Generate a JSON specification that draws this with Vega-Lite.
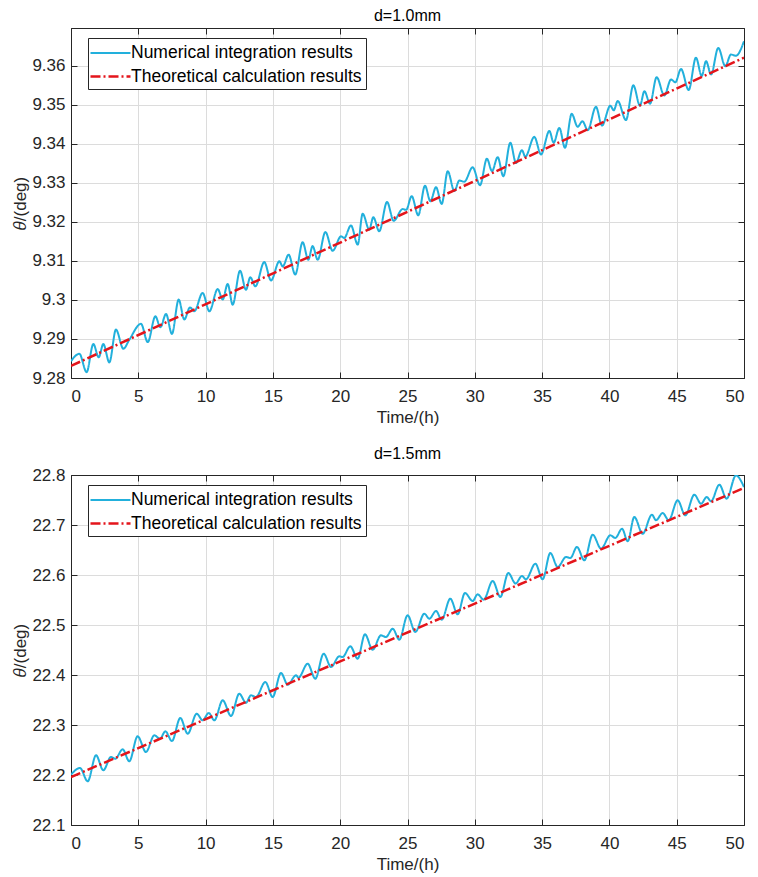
{
  "$schema": "https://vega.github.io/schema/vega-lite/v6.json",
  "padding": {"left": 11, "top": 7, "right": 6, "bottom": 0},
  "spacing": 19,
  "background": "white",
  "config": {
    "font": "Liberation Sans",
    "view": {"stroke": "#262626", "strokeWidth": 1},
    "axis": {
      "labelFont": "Liberation Sans", "labelFontSize": 17, "labelColor": "#262626",
      "titleFont": "Liberation Sans", "titleFontSize": 17, "titleFontWeight": "normal", "titleColor": "#262626",
      "domainColor": "#262626", "tickColor": "#262626", "gridColor": "#dcdcdc", "gridOpacity": 1,
      "tickSize": -6
    },
    "axisX": {"labelPadding": 16, "titlePadding": 5},
    "axisY": {"labelPadding": 12, "titlePadding": 2},
    "title": {"font": "Liberation Sans", "fontSize": 16, "fontWeight": "normal", "color": "#000000", "offset": 4},
    "legend": {
      "fillColor": "white", "strokeColor": "#262626",
      "padding": 4, "symbolType": "M-1.3,0H2.7", "symbolSize": 400, "symbolStrokeWidth": 2,
      "labelFont": "Liberation Sans", "labelFontSize": 17.5, "labelColor": "#000000", "labelLimit": 400,
      "rowPadding": 3, "labelOffset": 16, "cornerRadius": 0
    }
  },
  "datasets": {
    "top": [
      {"time": 0, "theta": 9.2843, "series": "num"},
      {"time": 0.62, "theta": 9.2862, "series": "num"},
      {"time": 1.16, "theta": 9.2815, "series": "num"},
      {"time": 1.66, "theta": 9.2887, "series": "num"},
      {"time": 2.06, "theta": 9.2853, "series": "num"},
      {"time": 2.4, "theta": 9.2887, "series": "num"},
      {"time": 2.85, "theta": 9.2840, "series": "num"},
      {"time": 3.34, "theta": 9.2924, "series": "num"},
      {"time": 3.89, "theta": 9.2875, "series": "num"},
      {"time": 4.33, "theta": 9.2898, "series": "num"},
      {"time": 5.2, "theta": 9.2939, "series": "num"},
      {"time": 5.7, "theta": 9.2892, "series": "num"},
      {"time": 6.27, "theta": 9.2958, "series": "num"},
      {"time": 6.64, "theta": 9.2930, "series": "num"},
      {"time": 7.06, "theta": 9.2964, "series": "num"},
      {"time": 7.5, "theta": 9.2913, "series": "num"},
      {"time": 8.0, "theta": 9.3001, "series": "num"},
      {"time": 8.42, "theta": 9.2950, "series": "num"},
      {"time": 8.84, "theta": 9.2981, "series": "num"},
      {"time": 9.16, "theta": 9.2971, "series": "num"},
      {"time": 9.78, "theta": 9.3018, "series": "num"},
      {"time": 10.28, "theta": 9.2971, "series": "num"},
      {"time": 10.9, "theta": 9.3028, "series": "num"},
      {"time": 11.27, "theta": 9.3001, "series": "num"},
      {"time": 11.64, "theta": 9.3041, "series": "num"},
      {"time": 12.01, "theta": 9.2988, "series": "num"},
      {"time": 12.56, "theta": 9.3075, "series": "num"},
      {"time": 13.0, "theta": 9.3026, "series": "num"},
      {"time": 13.32, "theta": 9.3058, "series": "num"},
      {"time": 13.7, "theta": 9.3035, "series": "num"},
      {"time": 14.36, "theta": 9.3097, "series": "num"},
      {"time": 14.86, "theta": 9.3050, "series": "num"},
      {"time": 15.48, "theta": 9.3099, "series": "num"},
      {"time": 15.73, "theta": 9.3086, "series": "num"},
      {"time": 16.17, "theta": 9.3116, "series": "num"},
      {"time": 16.66, "theta": 9.3065, "series": "num"},
      {"time": 17.21, "theta": 9.3148, "series": "num"},
      {"time": 17.63, "theta": 9.3103, "series": "num"},
      {"time": 17.95, "theta": 9.3138, "series": "num"},
      {"time": 18.33, "theta": 9.3103, "series": "num"},
      {"time": 18.9, "theta": 9.3174, "series": "num"},
      {"time": 19.44, "theta": 9.3126, "series": "num"},
      {"time": 20.06, "theta": 9.3163, "series": "num"},
      {"time": 20.3, "theta": 9.3159, "series": "num"},
      {"time": 20.8, "theta": 9.3191, "series": "num"},
      {"time": 21.3, "theta": 9.3142, "series": "num"},
      {"time": 21.67, "theta": 9.3221, "series": "num"},
      {"time": 22.16, "theta": 9.3180, "series": "num"},
      {"time": 22.46, "theta": 9.3212, "series": "num"},
      {"time": 22.9, "theta": 9.3176, "series": "num"},
      {"time": 23.48, "theta": 9.3251, "series": "num"},
      {"time": 23.97, "theta": 9.3203, "series": "num"},
      {"time": 24.64, "theta": 9.3233, "series": "num"},
      {"time": 24.9, "theta": 9.3231, "series": "num"},
      {"time": 25.31, "theta": 9.3266, "series": "num"},
      {"time": 25.8, "theta": 9.3217, "series": "num"},
      {"time": 26.3, "theta": 9.3293, "series": "num"},
      {"time": 26.7, "theta": 9.3253, "series": "num"},
      {"time": 27.12, "theta": 9.3289, "series": "num"},
      {"time": 27.54, "theta": 9.3246, "series": "num"},
      {"time": 27.99, "theta": 9.3330, "series": "num"},
      {"time": 28.48, "theta": 9.3279, "series": "num"},
      {"time": 28.85, "theta": 9.3306, "series": "num"},
      {"time": 29.22, "theta": 9.3303, "series": "num"},
      {"time": 29.84, "theta": 9.3340, "series": "num"},
      {"time": 30.39, "theta": 9.3294, "series": "num"},
      {"time": 30.9, "theta": 9.3362, "series": "num"},
      {"time": 31.28, "theta": 9.3330, "series": "num"},
      {"time": 31.7, "theta": 9.3366, "series": "num"},
      {"time": 32.12, "theta": 9.3317, "series": "num"},
      {"time": 32.64, "theta": 9.3403, "series": "num"},
      {"time": 33.06, "theta": 9.3351, "series": "num"},
      {"time": 33.5, "theta": 9.3384, "series": "num"},
      {"time": 33.75, "theta": 9.3367, "series": "num"},
      {"time": 34.42, "theta": 9.3418, "series": "num"},
      {"time": 34.92, "theta": 9.3373, "series": "num"},
      {"time": 35.54, "theta": 9.3433, "series": "num"},
      {"time": 35.86, "theta": 9.3403, "series": "num"},
      {"time": 36.28, "theta": 9.3441, "series": "num"},
      {"time": 36.7, "theta": 9.3390, "series": "num"},
      {"time": 37.2, "theta": 9.3477, "series": "num"},
      {"time": 37.64, "theta": 9.3444, "series": "num"},
      {"time": 38.0, "theta": 9.3458, "series": "num"},
      {"time": 38.39, "theta": 9.3435, "series": "num"},
      {"time": 39.0, "theta": 9.3495, "series": "num"},
      {"time": 39.45, "theta": 9.3447, "series": "num"},
      {"time": 40.07, "theta": 9.3498, "series": "num"},
      {"time": 40.32, "theta": 9.3486, "series": "num"},
      {"time": 40.62, "theta": 9.3510, "series": "num"},
      {"time": 41.23, "theta": 9.3461, "series": "num"},
      {"time": 41.78, "theta": 9.3550, "series": "num"},
      {"time": 42.27, "theta": 9.3498, "series": "num"},
      {"time": 42.6, "theta": 9.3535, "series": "num"},
      {"time": 43.02, "theta": 9.3503, "series": "num"},
      {"time": 43.51, "theta": 9.3571, "series": "num"},
      {"time": 44.08, "theta": 9.3524, "series": "num"},
      {"time": 44.58, "theta": 9.3565, "series": "num"},
      {"time": 44.9, "theta": 9.3558, "series": "num"},
      {"time": 45.32, "theta": 9.3592, "series": "num"},
      {"time": 45.89, "theta": 9.3538, "series": "num"},
      {"time": 46.43, "theta": 9.3621, "series": "num"},
      {"time": 46.86, "theta": 9.3574, "series": "num"},
      {"time": 47.18, "theta": 9.3612, "series": "num"},
      {"time": 47.55, "theta": 9.3578, "series": "num"},
      {"time": 48.09, "theta": 9.3646, "series": "num"},
      {"time": 48.61, "theta": 9.3599, "series": "num"},
      {"time": 49.03, "theta": 9.3629, "series": "num"},
      {"time": 49.4, "theta": 9.3626, "series": "num"},
      {"time": 50, "theta": 9.3663, "series": "num"},
      {"time": 0, "theta": 9.2831, "series": "theory"},
      {"time": 50, "theta": 9.3621, "series": "theory"}
    ],
    "bottom": [
      {"time": 0, "theta": 22.2006, "series": "num"},
      {"time": 0.67, "theta": 22.214, "series": "num"},
      {"time": 1.24, "theta": 22.1874, "series": "num"},
      {"time": 1.86, "theta": 22.2394, "series": "num"},
      {"time": 2.4, "theta": 22.2094, "series": "num"},
      {"time": 2.97, "theta": 22.236, "series": "num"},
      {"time": 3.29, "theta": 22.2326, "series": "num"},
      {"time": 3.84, "theta": 22.2514, "series": "num"},
      {"time": 4.33, "theta": 22.2274, "series": "num"},
      {"time": 4.95, "theta": 22.2774, "series": "num"},
      {"time": 5.57, "theta": 22.246, "series": "num"},
      {"time": 6.19, "theta": 22.2794, "series": "num"},
      {"time": 6.61, "theta": 22.2726, "series": "num"},
      {"time": 7.01, "theta": 22.2874, "series": "num"},
      {"time": 7.5, "theta": 22.268, "series": "num"},
      {"time": 8.12, "theta": 22.314, "series": "num"},
      {"time": 8.67, "theta": 22.2826, "series": "num"},
      {"time": 9.34, "theta": 22.3226, "series": "num"},
      {"time": 9.78, "theta": 22.3094, "series": "num"},
      {"time": 10.23, "theta": 22.324, "series": "num"},
      {"time": 10.65, "theta": 22.3094, "series": "num"},
      {"time": 11.27, "theta": 22.3494, "series": "num"},
      {"time": 11.89, "theta": 22.318, "series": "num"},
      {"time": 12.5, "theta": 22.3626, "series": "num"},
      {"time": 13.0, "theta": 22.3446, "series": "num"},
      {"time": 13.37, "theta": 22.3594, "series": "num"},
      {"time": 13.74, "theta": 22.356, "series": "num"},
      {"time": 14.44, "theta": 22.386, "series": "num"},
      {"time": 14.98, "theta": 22.356, "series": "num"},
      {"time": 15.6, "theta": 22.404, "series": "num"},
      {"time": 16.1, "theta": 22.3806, "series": "num"},
      {"time": 16.72, "theta": 22.3994, "series": "num"},
      {"time": 16.9, "theta": 22.3946, "series": "num"},
      {"time": 17.58, "theta": 22.4226, "series": "num"},
      {"time": 18.15, "theta": 22.3926, "series": "num"},
      {"time": 18.77, "theta": 22.4426, "series": "num"},
      {"time": 19.32, "theta": 22.416, "series": "num"},
      {"time": 19.93, "theta": 22.4374, "series": "num"},
      {"time": 20.18, "theta": 22.436, "series": "num"},
      {"time": 20.75, "theta": 22.4574, "series": "num"},
      {"time": 21.3, "theta": 22.4326, "series": "num"},
      {"time": 21.84, "theta": 22.4814, "series": "num"},
      {"time": 22.41, "theta": 22.4506, "series": "num"},
      {"time": 23.03, "theta": 22.4794, "series": "num"},
      {"time": 23.4, "theta": 22.476, "series": "num"},
      {"time": 23.9, "theta": 22.4926, "series": "num"},
      {"time": 24.39, "theta": 22.4706, "series": "num"},
      {"time": 25.01, "theta": 22.5194, "series": "num"},
      {"time": 25.58, "theta": 22.486, "series": "num"},
      {"time": 26.25, "theta": 22.5226, "series": "num"},
      {"time": 26.62, "theta": 22.5126, "series": "num"},
      {"time": 27.12, "theta": 22.528, "series": "num"},
      {"time": 27.54, "theta": 22.5106, "series": "num"},
      {"time": 28.18, "theta": 22.5526, "series": "num"},
      {"time": 28.73, "theta": 22.5214, "series": "num"},
      {"time": 29.27, "theta": 22.564, "series": "num"},
      {"time": 29.84, "theta": 22.548, "series": "num"},
      {"time": 30.21, "theta": 22.5614, "series": "num"},
      {"time": 30.66, "theta": 22.5506, "series": "num"},
      {"time": 31.33, "theta": 22.588, "series": "num"},
      {"time": 31.9, "theta": 22.556, "series": "num"},
      {"time": 32.49, "theta": 22.604, "series": "num"},
      {"time": 33.03, "theta": 22.583, "series": "num"},
      {"time": 33.5, "theta": 22.598, "series": "num"},
      {"time": 33.8, "theta": 22.5914, "series": "num"},
      {"time": 34.5, "theta": 22.6226, "series": "num"},
      {"time": 35.04, "theta": 22.5914, "series": "num"},
      {"time": 35.61, "theta": 22.644, "series": "num"},
      {"time": 36.16, "theta": 22.616, "series": "num"},
      {"time": 36.78, "theta": 22.636, "series": "num"},
      {"time": 37.1, "theta": 22.634, "series": "num"},
      {"time": 37.59, "theta": 22.656, "series": "num"},
      {"time": 38.14, "theta": 22.6294, "series": "num"},
      {"time": 38.76, "theta": 22.6806, "series": "num"},
      {"time": 39.38, "theta": 22.6526, "series": "num"},
      {"time": 40.07, "theta": 22.6794, "series": "num"},
      {"time": 40.44, "theta": 22.674, "series": "num"},
      {"time": 40.94, "theta": 22.6926, "series": "num"},
      {"time": 41.36, "theta": 22.6674, "series": "num"},
      {"time": 41.85, "theta": 22.716, "series": "num"},
      {"time": 42.47, "theta": 22.6826, "series": "num"},
      {"time": 43.16, "theta": 22.7206, "series": "num"},
      {"time": 43.46, "theta": 22.7094, "series": "num"},
      {"time": 43.96, "theta": 22.724, "series": "num"},
      {"time": 44.41, "theta": 22.7094, "series": "num"},
      {"time": 45.07, "theta": 22.7494, "series": "num"},
      {"time": 45.64, "theta": 22.7194, "series": "num"},
      {"time": 46.31, "theta": 22.7606, "series": "num"},
      {"time": 46.81, "theta": 22.7426, "series": "num"},
      {"time": 47.23, "theta": 22.756, "series": "num"},
      {"time": 47.55, "theta": 22.7474, "series": "num"},
      {"time": 48.17, "theta": 22.7806, "series": "num"},
      {"time": 48.71, "theta": 22.7526, "series": "num"},
      {"time": 49.4, "theta": 22.799, "series": "num"},
      {"time": 50, "theta": 22.776, "series": "num"},
      {"time": 0, "theta": 22.196, "series": "theory"},
      {"time": 50, "theta": 22.774, "series": "theory"}
    ]
  },
  "vconcat": [
    {
      "width": 673, "height": 350,
      "title": "d=1.0mm",
      "data": {"name": "top"},
      "layer": [
        {
          "mark": {"type": "line", "interpolate": "monotone", "clip": true},
          "encoding": {
            "x": {"field": "time", "type": "quantitative", "scale": {"domain": [0, 50], "nice": false},
              "axis": {"values": [0, 5, 10, 15, 20, 25, 30, 35, 40, 45, 50], "title": "Time/(h)"}},
            "y": {"field": "theta", "type": "quantitative", "scale": {"domain": [9.28, 9.3697], "nice": false, "zero": false},
              "axis": {"values": [9.28, 9.29, 9.3, 9.31, 9.32, 9.33, 9.34, 9.35, 9.36], "format": ".4~r", "title": "𝜃/(deg)"}},
            "color": {"field": "series", "type": "nominal",
              "scale": {"domain": ["num", "theory"], "range": ["#22b0dc", "#e4151b"]},
              "legend": {"title": null, "orient": "none", "legendX": 17, "legendY": 10, "labelExpr": "datum.value == 'num' ? 'Numerical integration results' : 'Theoretical calculation results'"}},
            "strokeDash": {"field": "series", "type": "nominal",
              "scale": {"domain": ["num", "theory"], "range": [[1, 0], [10, 3, 2, 3]]},
              "legend": {"title": null, "orient": "none", "legendX": 17, "legendY": 10, "labelExpr": "datum.value == 'num' ? 'Numerical integration results' : 'Theoretical calculation results'"}},
            "strokeWidth": {"field": "series", "type": "nominal",
              "scale": {"domain": ["num", "theory"], "range": [2, 2.5]}, "legend": null}
          }
        },
        {
          "mark": {"type": "point", "opacity": 0},
          "encoding": {
            "x": {"field": "time", "type": "quantitative",
              "axis": {"orient": "top", "values": [0, 5, 10, 15, 20, 25, 30, 35, 40, 45, 50], "labels": false, "title": null, "grid": false}},
            "y": {"field": "theta", "type": "quantitative",
              "axis": {"orient": "right", "values": [9.28, 9.29, 9.3, 9.31, 9.32, 9.33, 9.34, 9.35, 9.36], "labels": false, "title": null, "grid": false}}
          }
        }
      ],
      "resolve": {"axis": {"x": "independent", "y": "independent"}}
    },
    {
      "width": 673, "height": 350,
      "title": "d=1.5mm",
      "data": {"name": "bottom"},
      "layer": [
        {
          "mark": {"type": "line", "interpolate": "monotone", "clip": true},
          "encoding": {
            "x": {"field": "time", "type": "quantitative", "scale": {"domain": [0, 50], "nice": false},
              "axis": {"values": [0, 5, 10, 15, 20, 25, 30, 35, 40, 45, 50], "title": "Time/(h)"}},
            "y": {"field": "theta", "type": "quantitative", "scale": {"domain": [22.1, 22.8], "nice": false, "zero": false},
              "axis": {"values": [22.1, 22.2, 22.3, 22.4, 22.5, 22.6, 22.7, 22.8], "format": ".4~r", "title": "𝜃/(deg)"}},
            "color": {"field": "series", "type": "nominal",
              "scale": {"domain": ["num", "theory"], "range": ["#22b0dc", "#e4151b"]},
              "legend": {"title": null, "orient": "none", "legendX": 17, "legendY": 10, "labelExpr": "datum.value == 'num' ? 'Numerical integration results' : 'Theoretical calculation results'"}},
            "strokeDash": {"field": "series", "type": "nominal",
              "scale": {"domain": ["num", "theory"], "range": [[1, 0], [10, 3, 2, 3]]},
              "legend": {"title": null, "orient": "none", "legendX": 17, "legendY": 10, "labelExpr": "datum.value == 'num' ? 'Numerical integration results' : 'Theoretical calculation results'"}},
            "strokeWidth": {"field": "series", "type": "nominal",
              "scale": {"domain": ["num", "theory"], "range": [2, 2.5]}, "legend": null}
          }
        },
        {
          "mark": {"type": "point", "opacity": 0},
          "encoding": {
            "x": {"field": "time", "type": "quantitative",
              "axis": {"orient": "top", "values": [0, 5, 10, 15, 20, 25, 30, 35, 40, 45, 50], "labels": false, "title": null, "grid": false}},
            "y": {"field": "theta", "type": "quantitative",
              "axis": {"orient": "right", "values": [22.1, 22.2, 22.3, 22.4, 22.5, 22.6, 22.7, 22.8], "labels": false, "title": null, "grid": false}}
          }
        }
      ],
      "resolve": {"axis": {"x": "independent", "y": "independent"}}
    }
  ],
  "resolve": {
    "scale": {"x": "independent", "y": "independent", "color": "independent", "strokeDash": "independent", "strokeWidth": "independent"},
    "legend": {"color": "independent", "strokeDash": "independent"}
  }
}
